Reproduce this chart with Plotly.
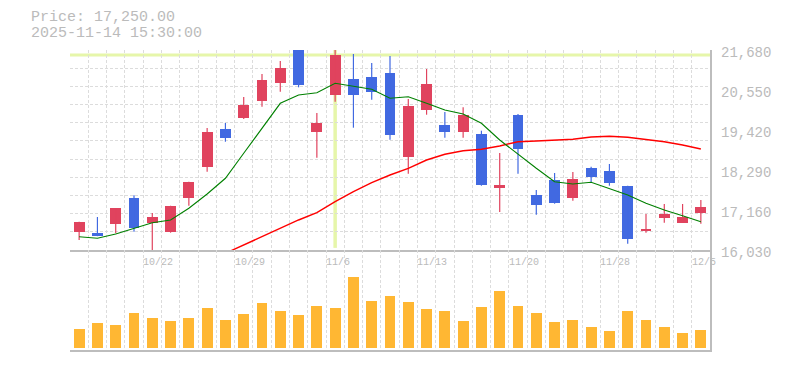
import plotly.graph_objects as go

# ---- data ----
dates = ["10/16", "10/17", "10/20", "10/21", "10/22", "10/23", "10/24", "10/27", "10/28", "10/29",
         "10/30", "10/31", "11/4", "11/5", "11/6", "11/7", "11/10", "11/11", "11/12", "11/13",
         "11/14", "11/17", "11/18", "11/19", "11/20", "11/21", "11/25", "11/26", "11/27", "11/28",
         "12/1", "12/2", "12/3", "12/4", "12/5"]
opens = [16540, 16520, 16773, 17499, 16801, 16538, 17507, 18383, 19448, 19767,
         20248, 20756, 21720, 19372, 20417, 20861, 20917, 21030, 18666, 19993,
         19561, 19372, 19307, 17790, 19844, 17584, 18008, 17507, 18347, 18262,
         17838, 16567, 16942, 16801, 17075]
highs = [16830, 16962, 17220, 17575, 17075, 17280, 17955, 19476, 19618, 20352,
         21002, 21369, 21760, 19900, 21700, 21567, 21313, 21510, 20296, 21143,
         19928, 20061, 19400, 18770, 19872, 17725, 18205, 18234, 18383, 18460,
         17845, 17047, 17330, 17330, 17442]
lows = [16310, 16420, 16502, 16547, 15990, 16519, 17281, 18242, 19089, 19731,
        20078, 20502, 20626, 18637, 20219, 19485, 20276, 19146, 18185, 19852,
        19202, 19202, 17846, 17104, 18185, 17027, 17338, 17423, 17931, 17846,
        16208, 16519, 16801, 16795, 16773]
closes = [16820, 16434, 17216, 16660, 16962, 17273, 17951, 19363, 19202, 20126,
          20832, 21171, 20691, 19618, 21539, 20417, 20502, 19279, 20098, 20720,
          19372, 19844, 17866, 17866, 18892, 17310, 17358, 18036, 18101, 17931,
          16349, 16623, 17047, 16962, 17250]
ma_short = [16406, 16361, 16482, 16643, 16801, 16878, 17208, 17612, 18056, 18762,
            19468, 20174, 20409, 20474, 20739, 20663, 20570, 20316, 20361, 20174,
            19985, 19872, 19609, 19138, 18734, 18338, 17959, 17895, 17943, 17753,
            17584, 17349, 17160, 16999, 16829]
ma_long = [None, None, None, None, None, None, None, None, 15937, 16171,
           16426, 16637, 16878, 17084, 17394, 17677, 17931, 18149, 18338, 18572,
           18734, 18835, 18875, 18968, 19089, 19109, 19137, 19157, 19222, 19242,
           19214, 19157, 19089, 18996, 18883]
volumes = [1900, 2500, 2300, 3500, 3000, 2700, 3000, 4000, 2800, 3400,
           4500, 3700, 3300, 4200, 4000, 7100, 4700, 5200, 4600, 3900,
           3700, 2700, 4100, 5700, 4200, 3500, 2600, 2800, 2100, 1700,
           3700, 2800, 2100, 1500, 1800]
date_labels = ["10/22", "10/29", "11/6", "11/13", "11/20", "11/28", "12/5"]
price_ticks = [16030, 17160, 18290, 19420, 20550, 21680]
title_lines = ["Price: 17,250.00", "2025-11-14 15:30:00"]
cross_date = "11/6"

# ---- styling ----
UP = "#E0435E"
DOWN = "#4169E1"
VOLC = "#FFB733"
GRID = "#DCDCDC"
AXIS = "#BDBDBD"
TXT = "#BBBBBB"
HL = "#E6F6AA"
MONO = "Liberation Mono, DejaVu Sans Mono, monospace"

n = len(dates)
xs = list(range(n))
up_idx = [i for i in xs if closes[i] >= opens[i]]
dn_idx = [i for i in xs if closes[i] < opens[i]]

fig = go.Figure()

# volume
fig.add_trace(go.Bar(x=xs, y=volumes, width=0.6, marker=dict(color=VOLC, line=dict(width=0)),
                     xaxis="x2", yaxis="y2", hoverinfo="skip"))


def wicks(idx):
    wx, wy = [], []
    for i in idx:
        wx += [i, i, None]
        wy += [lows[i], highs[i], None]
    return wx, wy


for idx, col in ((up_idx, UP), (dn_idx, DOWN)):
    wx, wy = wicks(idx)
    fig.add_trace(go.Scatter(x=wx, y=wy, mode="lines", line=dict(color=col, width=1.2),
                             hoverinfo="skip"))
    fig.add_trace(go.Bar(x=idx, y=[closes[i] - opens[i] for i in idx],
                         base=[opens[i] for i in idx], width=0.6,
                         marker=dict(color=col, line=dict(width=0)), hoverinfo="skip"))

fig.add_trace(go.Scatter(x=xs, y=ma_long, mode="lines", line=dict(color="#FF0000", width=1.4),
                         connectgaps=False, hoverinfo="skip"))
fig.add_trace(go.Scatter(x=xs, y=ma_short, mode="lines", line=dict(color="#008000", width=1.1),
                         hoverinfo="skip"))

ymin, ymax = price_ticks[0], price_ticks[-1]
grid_y = [ymin + k * (ymax - ymin) / 11 for k in range(12)]
grid_x = [k - 0.5 for k in range(n + 1)]

# the page body has an 8px margin, so the figure is 8px smaller and margins 8px tighter
fig.update_layout(
    width=777, height=362,
    margin=dict(l=62, r=75, t=42, b=20),
    paper_bgcolor="white", plot_bgcolor="white",
    showlegend=False, barmode="overlay", bargap=0,
    xaxis=dict(domain=[0, 1], range=[-0.5, n - 0.5], tickvals=grid_x, showticklabels=False,
               ticks="", showgrid=True, gridcolor=GRID, griddash="3px,2px", gridwidth=1,
               showline=True, linecolor=AXIS, linewidth=1.5, zeroline=False, anchor="y"),
    yaxis=dict(domain=[1 / 3, 1], range=[ymin, ymax], tickvals=grid_y, showticklabels=False,
               ticks="", showgrid=True, gridcolor=GRID, griddash="3px,2px", gridwidth=1,
               showline=True, linecolor=AXIS, linewidth=1.5, side="right", zeroline=False,
               anchor="x"),
    xaxis2=dict(domain=[0, 1], range=[-0.5, n - 0.5], tickvals=grid_x, showticklabels=False,
                ticks="", showgrid=True, gridcolor=GRID, griddash="3px,2px", gridwidth=1,
                showline=True, linecolor=AXIS, linewidth=2, zeroline=False, anchor="y2"),
    yaxis2=dict(domain=[0, 1 / 3], range=[-200, 9800], showticklabels=False, ticks="",
                showgrid=False, showline=True, linecolor=AXIS, linewidth=1.5, side="right",
                zeroline=False, anchor="x2"),
)

ci = dates.index(cross_date)
fig.add_shape(type="line", xref="x", yref="y", x0=ci, x1=ci, y0=16090, y1=ymax,
              line=dict(color=HL, width=3.5), layer="below")
fig.add_shape(type="line", xref="x", yref="y", x0=-0.5, x1=n - 0.5, y0=closes[ci], y1=closes[ci],
              line=dict(color=HL, width=3), layer="below")

for v in price_ticks:
    fig.add_annotation(x=1, xref="paper", y=v, yref="y", text=f"{v:,}", showarrow=False,
                       xanchor="left", yanchor="middle", xshift=9, yshift=-3,
                       font=dict(family=MONO, size=14, color=TXT))

for lab in date_labels:
    i = dates.index(lab)
    fig.add_annotation(x=i - 0.5, xref="x", y=(350 - 262) / 300, yref="paper", text=lab,
                       showarrow=False, xanchor="left", yanchor="middle", xshift=-2,
                       font=dict(family=MONO, size=10, color=TXT))

for k, line in enumerate(title_lines):
    fig.add_annotation(x=(29 - 70) / 640, xref="paper", y=(350 - (17.5 + 15.7 * k)) / 300,
                       yref="paper", text=line, showarrow=False, xanchor="left",
                       yanchor="middle", font=dict(family=MONO, size=15, color=TXT))

fig.write_html("out.html")
